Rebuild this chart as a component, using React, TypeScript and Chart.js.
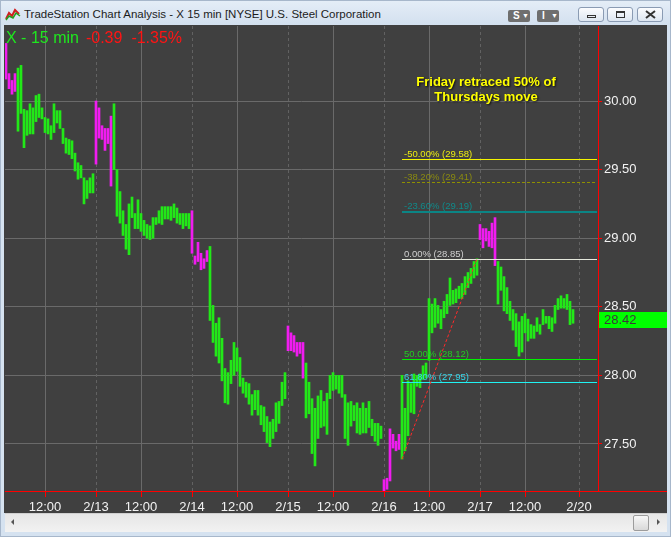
import React, { useEffect, useRef } from "react";
import { Chart, registerables } from "chart.js";

Chart.register(...registerables);

// ---- data (15-minute bars, X / U.S. Steel) ----
const highs = [
  30.42, 30.2, 30.15, 30.2, 30.24, 30.26, 29.94, 29.93, 29.98, 29.95,
  30.04, 30.05, 29.95, 29.88, 29.87, 29.82, 29.98, 29.93, 29.93, 29.8,
  29.73, 29.72, 29.71, 29.62, 29.55, 29.53, 29.44, 29.42, 29.44, 29.47,
  30.0, 29.95, 29.82, 29.8, 29.8, 29.89, 29.98, 29.5, 29.34, 29.2,
  29.1, 29.25, 29.3, 29.18, 29.28, 29.18, 29.13, 29.1, 29.09, 29.15,
  29.15, 29.2, 29.23, 29.23, 29.23, 29.23, 29.25, 29.22, 29.18, 29.18,
  29.18, 29.18, 29.2, 28.87, 28.97, 28.89, 28.85, 28.91, 28.94, 28.51,
  28.38, 28.42, 28.27, 28.05, 28.02, 28.11, 28.24, 28.2, 28.13, 27.98,
  27.95, 27.94, 27.86, 27.89, 27.89, 27.78, 27.77, 27.7, 27.66, 27.68,
  27.8, 27.81, 27.95, 28.02, 28.36, 28.31, 28.29, 28.24, 28.24, 28.24,
  28.09, 27.95, 27.83, 27.76, 27.85, 27.89, 27.81, 27.87, 28.0, 28.02,
  28.0, 28.0, 28.0, 27.86, 27.8, 27.81, 27.78, 27.8, 27.76, 27.8,
  27.76, 27.81, 27.68, 27.65, 27.65, 27.63, 27.24, 27.25, 27.61, 27.57,
  27.52, 27.57, 28.0, 27.76, 27.96, 27.94, 28.01, 28.0, 28.01, 28.07,
  28.09, 28.56, 28.52, 28.56, 28.51, 28.48, 28.54, 28.59, 28.71, 28.62,
  28.63, 28.65, 28.67, 28.72, 28.75, 28.78, 28.83, 28.85, 29.1, 29.07,
  29.07, 29.05, 29.11, 29.15, 28.83, 28.79, 28.72, 28.64, 28.54, 28.48,
  28.45, 28.39, 28.43, 28.45, 28.41, 28.37, 28.36, 28.42, 28.37, 28.48,
  28.43, 28.43, 28.42, 28.51, 28.56, 28.58, 28.56, 28.59, 28.54, 28.48,
];
const lows = [
  30.16, 30.09, 30.05, 30.07, 29.78, 29.91, 29.66, 29.75, 29.76, 29.76,
  29.85, 29.88, 29.87, 29.77, 29.76, 29.72, 29.77, 29.84, 29.8, 29.69,
  29.62, 29.61, 29.58, 29.49, 29.43, 29.44, 29.25, 29.29, 29.33, 29.33,
  29.54, 29.73, 29.72, 29.64, 29.69, 29.38, 29.5, 29.16, 29.11, 29.02,
  28.92, 28.88, 29.15, 29.07, 29.07, 29.05, 29.02, 29.0, 28.99, 29.0,
  29.1, 29.11, 29.1, 29.14, 29.14, 29.13, 29.15, 29.11, 29.1, 29.07,
  29.09, 29.07, 28.89, 28.81, 28.83, 28.77, 28.78, 28.83, 28.4, 28.24,
  28.14, 28.09, 27.96, 27.8, 27.79, 27.94, 28.0, 28.03, 27.92, 27.87,
  27.84, 27.79, 27.71, 27.75, 27.71, 27.64, 27.59, 27.51, 27.48, 27.54,
  27.59, 27.65, 27.78, 27.83, 28.18, 28.18, 28.17, 28.14, 28.16, 27.98,
  27.69, 27.72, 27.43, 27.34, 27.54, 27.62, 27.63, 27.57, 27.83, 27.89,
  27.9, 27.87, 27.84, 27.54, 27.49, 27.63, 27.67, 27.58, 27.57, 27.58,
  27.58, 27.62, 27.56, 27.52, 27.49, 27.54, 27.15, 27.17, 27.23, 27.47,
  27.45, 27.46, 27.39, 27.45, 27.56, 27.73, 27.72, 27.92, 27.91, 27.97,
  27.98, 28.11, 28.31, 28.35, 28.38, 28.34, 28.42, 28.45, 28.51, 28.52,
  28.53, 28.56, 28.56, 28.59, 28.64, 28.67, 28.71, 28.73, 28.99, 28.93,
  28.98, 28.94, 28.93, 28.8, 28.52, 28.62, 28.47, 28.45, 28.4, 28.33,
  28.21, 28.14, 28.17, 28.31, 28.25, 28.27, 28.27, 28.32, 28.3, 28.37,
  28.38, 28.34, 28.32, 28.38, 28.48, 28.49, 28.49, 28.48, 28.37, 28.38,
];
const sessionStarts = [-2, 30, 62, 94, 126, 158];
const openingBars = 6;

const xTickIdx = [13, 30, 45, 62, 77, 94, 109, 126, 141, 158, 173, 191];
const xTickLabels = ["12:00", "2/13", "12:00", "2/14", "12:00", "2/15", "12:00", "2/16", "12:00", "2/17", "12:00", "2/20"];
const yTicks = [27.5, 28, 28.5, 29, 29.5, 30];

const fibPct = [-50, -38.2, -23.6, 0, 50, 61.8];
const fibPrice = [29.58, 29.41, 29.19, 28.85, 28.12, 27.95];
const fibLineColors = ["#f5f500", "#8f8f00", "#0b8585", "#e4e8dc", "#00f000", "#20f2f2"];
const fibTextColors = ["#ecec10", "#8a8a10", "#108a8a", "#cfcfcf", "#22cc22", "#34d6ea"];
const fibDashed = [false, true, false, false, false, false];
const fibWidths = [1, 1, 2, 1, 1, 1];
const fibStartIdx = 132;
const trendIdx = [132, 157];
const trendPrice = [27.39, 28.85];

const lastPrice = 28.42;
const netChange = -0.39;
const pctChange = -1.35;
const symbolTitle = "X - 15 min";
const noteLines = ["Friday retraced 50% of", "Thursdays move"];

const GREEN = "#22e818";
const MAGENTA = "#f01cf0";
const FONT = '"Liberation Sans", Arial, sans-serif';

function isOpening(i: number) {
  let s = sessionStarts[0];
  for (const st of sessionStarts) if (st <= i) s = st;
  return i - s < openingBars;
}

const overlayPlugin = {
  id: "overlay",
  beforeDatasetsDraw(chart: any) {
    const { ctx, chartArea: a, scales } = chart;
    const x = scales.x;
    ctx.save();
    ctx.lineWidth = 1;
    xTickIdx.forEach((v, k) => {
      const px = Math.round(x.getPixelForValue(v)) + 0.5;
      const isDate = xTickLabels[k].includes("/");
      ctx.strokeStyle = isDate ? "#626262" : "#6a6a6a";
      ctx.setLineDash(isDate ? [3, 3] : []);
      ctx.beginPath();
      ctx.moveTo(px, a.top);
      ctx.lineTo(px, a.bottom);
      ctx.stroke();
    });
    ctx.restore();
  },
  afterDatasetsDraw(chart: any) {
    const { ctx, chartArea: a, scales } = chart;
    const x = scales.x;
    const y = scales.y;
    ctx.save();
    const x0 = Math.round(x.getPixelForValue(fibStartIdx));
    fibPrice.forEach((p, k) => {
      const w = fibWidths[k];
      const py = Math.round(y.getPixelForValue(p)) + (w === 1 ? 0.5 : 0);
      ctx.strokeStyle = fibLineColors[k];
      ctx.lineWidth = w;
      ctx.setLineDash(fibDashed[k] ? [3, 2] : []);
      ctx.beginPath();
      ctx.moveTo(x0, py);
      ctx.lineTo(a.right - 1, py);
      ctx.stroke();
      ctx.setLineDash([]);
      ctx.font = "9.5px " + FONT;
      ctx.fillStyle = fibTextColors[k];
      ctx.textAlign = "left";
      ctx.textBaseline = "alphabetic";
      ctx.fillText(fibPct[k].toFixed(2) + "% (" + p.toFixed(2) + ")", x0 + 2, py - 3);
    });
    // trend line
    ctx.strokeStyle = "#ff2a2a";
    ctx.lineWidth = 1;
    ctx.setLineDash([3, 2]);
    ctx.beginPath();
    ctx.moveTo(x.getPixelForValue(trendIdx[0]), y.getPixelForValue(trendPrice[0]));
    ctx.lineTo(x.getPixelForValue(trendIdx[1]), y.getPixelForValue(trendPrice[1]));
    ctx.stroke();
    ctx.restore();
  },
  afterDraw(chart: any) {
    const { ctx, chartArea: a, scales, width } = chart;
    const y = scales.y;
    ctx.save();
    ctx.strokeStyle = "#ff0000";
    ctx.lineWidth = 1;
    ctx.beginPath();
    ctx.moveTo(0, Math.round(a.bottom) + 0.5);
    ctx.lineTo(width, Math.round(a.bottom) + 0.5);
    ctx.stroke();
    const ly = Math.round(y.getPixelForValue(lastPrice)) + 2;
    ctx.fillStyle = "#00ff00";
    ctx.fillRect(a.right + 1, ly - 8, width - a.right - 1, 16);
    ctx.fillStyle = "#3a3a3a";
    ctx.font = "13px " + FONT;
    ctx.textBaseline = "middle";
    ctx.textAlign = "left";
    ctx.fillText(lastPrice.toFixed(2), a.right + 6, ly);
    ctx.font = "16px " + FONT;
    ctx.textBaseline = "alphabetic";
    ctx.fillStyle = "#1ee81e";
    ctx.fillText(symbolTitle, 1, 17);
    let cx = 1 + ctx.measureText(symbolTitle).width + 7;
    ctx.fillStyle = "#ff1414";
    const ch = netChange.toFixed(2);
    ctx.fillText(ch, cx, 17);
    cx += ctx.measureText(ch).width + 9;
    ctx.fillText(pctChange.toFixed(2) + "%", cx, 17);
    ctx.font = "bold 13px " + FONT;
    ctx.textAlign = "center";
    ctx.shadowColor = "rgba(0,0,0,0.8)";
    ctx.shadowOffsetX = 1;
    ctx.shadowOffsetY = 1;
    ctx.shadowBlur = 2;
    ctx.fillStyle = "#ffff00";
    noteLines.forEach((t, k) => ctx.fillText(t, 481, 60 + k * 15));
    ctx.restore();
  },
};

export default function App() {
  const ref = useRef<HTMLCanvasElement>(null);
  useEffect(() => {
    const barData = highs.map((h, i) => ({ x: i, y: [lows[i], h] }));
    const barColors = highs.map((_, i) => (isOpening(i) ? MAGENTA : GREEN));
    const chart = new Chart(ref.current as HTMLCanvasElement, {
      type: "bar",
      data: {
        datasets: [
          {
            data: barData as any,
            backgroundColor: barColors,
            borderWidth: 0,
            barThickness: 2,
            grouped: false,
          } as any,
        ],
      },
      options: {
        responsive: false,
        devicePixelRatio: 1,
        animation: false,
        events: [],
        layout: { padding: 0, autoPadding: false } as any,
        plugins: { legend: { display: false }, tooltip: { enabled: false } },
        scales: {
          x: {
            type: "linear",
            position: "bottom",
            min: -1 / 3,
            max: 197.333,
            offset: false,
            afterFit: (s: any) => {
              s.height = 22;
              s.paddingLeft = 0;
              s.paddingRight = 0;
            },
            afterBuildTicks: (s: any) => {
              s.ticks = xTickIdx.map((v) => ({ value: v }));
            },
            grid: {
              offset: false,
              drawOnChartArea: false,
              drawTicks: true,
              tickLength: 6,
              tickColor: "#ff0000",
              tickWidth: 1,
            },
            border: { color: "#ff0000", width: 1 },
            ticks: {
              autoSkip: false,
              maxRotation: 0,
              minRotation: 0,
              padding: 3,
              color: "#f2f2f2",
              font: { family: FONT, size: 13 },
              callback: (_v: any, idx: number) => xTickLabels[idx],
            },
          },
          y: {
            type: "linear",
            position: "right",
            min: 27.157,
            max: 30.547,
            beginAtZero: false,
            afterFit: (s: any) => {
              s.width = 69;
              s.paddingTop = 0;
              s.paddingBottom = 0;
            },
            afterBuildTicks: (s: any) => {
              s.ticks = yTicks.map((v) => ({ value: v }));
            },
            grid: {
              color: "#6a6a6a",
              tickColor: "#ff0000",
              tickLength: 4,
              drawTicks: true,
            },
            border: { color: "#ff0000", width: 1 },
            ticks: {
              padding: 2,
              color: "#f2f2f2",
              font: { family: FONT, size: 13 },
              callback: (v: any) => Number(v).toFixed(2),
            },
          },
        },
      } as any,
      plugins: [overlayPlugin],
    });
    return () => chart.destroy();
  }, []);

  const btn: React.CSSProperties = {
    position: "absolute",
    top: 6,
    width: 26,
    height: 15,
    borderRadius: 3,
    border: "1px solid #8a9bb3",
    background: "linear-gradient(#fbfcfe, #dde6f1)",
    boxSizing: "border-box",
  };
  const dbtn: React.CSSProperties = {
    position: "absolute",
    top: 9,
    width: 22,
    height: 12,
    borderRadius: 2,
    background: "#6f6f6f",
    color: "#fff",
    font: "bold 10px " + FONT,
    lineHeight: "12px",
    paddingLeft: 5,
    boxSizing: "border-box",
  };

  return (
    <div
      style={{
        position: "fixed",
        left: 0,
        top: 0,
        width: 671,
        height: 537,
        background: "#d5e2f0",
        overflow: "hidden",
        fontFamily: FONT,
        boxSizing: "border-box",
        border: "1px solid #a7b7cb",
      }}
    >
      <div style={{ position: "absolute", left: 0, top: 0, width: 671, height: 24, background: "linear-gradient(#e4edf7, #d3e0ef)" }} />
      <svg style={{ position: "absolute", left: 4, top: 6 }} width="16" height="14">
        <polyline points="1,12 4,6 7,9 10,3 14,7" fill="none" stroke="#d02020" strokeWidth="2" />
        <polyline points="1,13 4,9 8,11 11,6 15,9" fill="none" stroke="#20a020" strokeWidth="1.5" />
      </svg>
      <div style={{ position: "absolute", left: 23, top: 5, fontSize: 11.5, lineHeight: "16px", color: "#1c1c1c", whiteSpace: "nowrap" }}>
        TradeStation Chart Analysis - X 15 min [NYSE] U.S. Steel Corporation
      </div>
      <div style={{ ...dbtn, left: 507 }}>S<span style={{ position: "absolute", left: 14, top: 0, fontSize: 7 }}>▼</span></div>
      <div style={{ ...dbtn, left: 536 }}>I<span style={{ position: "absolute", left: 14, top: 0, fontSize: 7 }}>▼</span></div>
      <div style={{ ...btn, left: 577 }}>
        <div style={{ position: "absolute", left: 8, top: 7, width: 9, height: 3, border: "1px solid #333", boxSizing: "border-box" }} />
      </div>
      <div style={{ ...btn, left: 606 }}>
        <div style={{ position: "absolute", left: 8, top: 3, width: 9, height: 7, border: "1px solid #333", borderTopWidth: 2, boxSizing: "border-box" }} />
      </div>
      <div style={{ ...btn, left: 636 }}>
        <svg style={{ position: "absolute", left: 7, top: 2 }} width="11" height="9">
          <path d="M1,1 L10,8 M10,1 L1,8" stroke="#333" strokeWidth="2" />
        </svg>
      </div>
      <div style={{ position: "absolute", left: 3, top: 24, width: 663, height: 488, background: "#404040" }}>
        <canvas ref={ref} width={662} height={487} style={{ position: "absolute", left: 1, top: 1, width: 662, height: 487, display: "block" }} />
      </div>
      <div
        style={{
          position: "absolute",
          left: 4,
          top: 512,
          width: 662,
          height: 19,
          background: "linear-gradient(#e6e6e6, #f2f2f2)",
          borderTop: "1px solid #cfcfcf",
          boxSizing: "border-box",
        }}
      >
        <div style={{ position: "absolute", left: 6, top: 5, width: 0, height: 0, borderTop: "3px solid transparent", borderBottom: "3px solid transparent", borderRight: "3px solid #555" }} />
        <div style={{ position: "absolute", left: 652, top: 5, width: 0, height: 0, borderTop: "3px solid transparent", borderBottom: "3px solid transparent", borderLeft: "3px solid #555" }} />
        <div style={{ position: "absolute", left: 628, top: 1, width: 16, height: 16, border: "1px solid #9c9c9c", borderRadius: 2, background: "linear-gradient(#f7f7f7, #d9d9d9)", boxSizing: "border-box" }} />
      </div>
    </div>
  );
}
